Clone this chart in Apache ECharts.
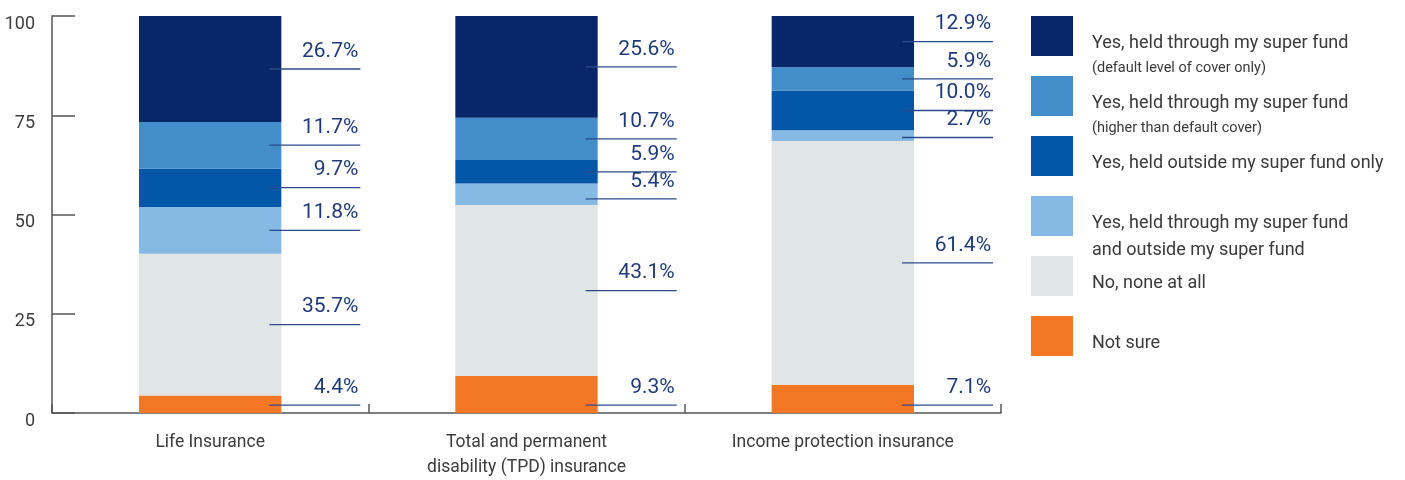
<!DOCTYPE html>
<html>
<head>
<meta charset="utf-8">
<script src="https://cdn.jsdelivr.net/npm/echarts@6/dist/echarts.min.js"></script>
<style>
    html, body { margin: 0; padding: 0; background: #fff; }
    #chart { width: 1405px; height: 480px; }
</style>
</head>
<body>
<div id="chart"></div>
<script>
// categories
const categories = ['Life Insurance', 'Total and permanent\ndisability (TPD) insurance', 'Income protection insurance'];
// series values, stacked bottom -> top
const notSure = [4.4, 9.3, 7.1];
const noneAtAll = [35.7, 43.1, 61.4];
const throughAndOutside = [11.8, 5.4, 2.7];
const outsideOnly = [9.7, 5.9, 10.0];
const higherCover = [11.7, 10.7, 5.9];
const defaultCover = [26.7, 25.6, 12.9];
// y tick labels
const yTicks = [0, 25, 50, 75, 100];

const FONT = "Roboto, 'Noto Sans', sans-serif";

// series definitions (bottom -> top)
const seriesDefs = [
    { name: 'Not sure', data: notSure, color: '#f47725', legend: ['Not sure'] },
    { name: 'No, none at all', data: noneAtAll, color: '#e0e6e6', legend: ['No, none at all'] },
    { name: 'Yes, held through my super fund and outside my super fund', data: throughAndOutside, color: '#86b9e4', legend: ['Yes, held through my super fund', 'and outside my super fund'] },
    { name: 'Yes, held outside my super fund only', data: outsideOnly, color: '#0457a8', legend: ['Yes, held outside my super fund only'] },
    { name: 'Yes, held through my super fund (higher than default cover)', data: higherCover, color: '#448dcb', legend: ['Yes, held through my super fund', '(higher than default cover)'], small: true },
    { name: 'Yes, held through my super fund (default level of cover only)', data: defaultCover, color: '#08276b', legend: ['Yes, held through my super fund', '(default level of cover only)'], small: true },
];

const chart = echarts.init(document.getElementById('chart'));

// 标签：每段的百分比 + 下划线
function renderLabels(params, api) {
    const cat = api.value(0);
    const center = api.coord([cat, 0])[0];
    const barRight = center + api.size([1, 0])[0] * 0.45 / 2;
    // top -> bottom
    let cum = 100;
    const items = [];
    for (let i = seriesDefs.length - 1; i >= 0; i--) {
        const v = seriesDefs[i].data[cat];
        // 最底下那段的标签贴着底部
        const anchor = i === 0 ? Math.min(cum - v / 2, 2) : cum - v / 2;
        items.push({ v: v, y: api.coord([cat, anchor])[1] });
        cum -= v;
    }
    // 避免重叠
    for (let i = 1; i < items.length; i++) {
        if (items[i].y < items[i - 1].y + 27) items[i].y = items[i - 1].y + 27;
    }
    const children = [];
    items.forEach(it => {
        children.push({
            type: 'line',
            shape: { x1: barRight - 12, y1: it.y, x2: barRight + 79, y2: it.y },
            style: { stroke: '#2c4a8a', lineWidth: 1.3 }
        });
        children.push({
            type: 'text',
            x: barRight + 77,
            y: it.y - 7,
            style: {
                text: it.v.toFixed(1) + '%',
                align: 'right',
                verticalAlign: 'bottom',
                fill: '#1e3a7b',
                font: '21px ' + FONT
            }
        });
    });
    return { type: 'group', children: children };
}

// 图例（右侧）
const legendGraphics = [];
seriesDefs.slice().reverse().forEach((s, i) => {
    const top = 16 + i * 60;
    legendGraphics.push({
        type: 'rect', left: 1031, top: top,
        shape: { width: 42, height: 40 },
        style: { fill: s.color }
    });
    legendGraphics.push({
        type: 'text', x: 1092, y: top + 27,
        style: { text: s.legend[0], verticalAlign: 'middle', fill: '#3a3a3a', font: '18px ' + FONT }
    });
    if (s.legend[1]) {
        legendGraphics.push({
            type: 'text', x: 1092, y: top + (s.small ? 52 : 54),
            style: { text: s.legend[1], verticalAlign: 'middle', fill: '#3a3a3a', font: (s.small ? '14.5px ' : '18px ') + FONT }
        });
    }
});

const option = {
    animation: false,
    grid: { left: 52, right: 404, top: 16, bottom: 65, containLabel: false },
    xAxis: {
        type: 'category',
        data: categories,
        axisLine: { lineStyle: { color: '#555', width: 1.5 } },
        axisTick: { show: true, inside: true, length: 9, interval: 0, lineStyle: { color: '#555', width: 1.5 } },
        axisLabel: { color: '#3c3c3c', fontSize: 17.5, lineHeight: 25, margin: 17, fontFamily: FONT, interval: 0 }
    },
    yAxis: {
        type: 'value',
        min: yTicks[0],
        max: yTicks[yTicks.length - 1],
        interval: yTicks[1] - yTicks[0],
        axisLine: { show: true, lineStyle: { color: '#555', width: 1.5 } },
        axisTick: { show: true, inside: true, length: 23, lineStyle: { color: '#555', width: 1.5 } },
        splitLine: { show: false },
        axisLabel: { color: '#3c3c3c', fontSize: 18, margin: 17, fontFamily: FONT, verticalAlign: 'top', lineHeight: 16 }
    },
    series: seriesDefs.map(s => ({
        name: s.name,
        type: 'bar',
        stack: 'total',
        barWidth: '45%',
        data: s.data,
        itemStyle: { color: s.color },
        silent: true
    })).concat([{
        type: 'custom',
        renderItem: renderLabels,
        data: categories.map((c, i) => [i]),
        encode: { x: 0 },
        clip: false,
        silent: true,
        z: 10
    }]),
    graphic: legendGraphics
};

chart.setOption(option);
</script>
</body>
</html>
